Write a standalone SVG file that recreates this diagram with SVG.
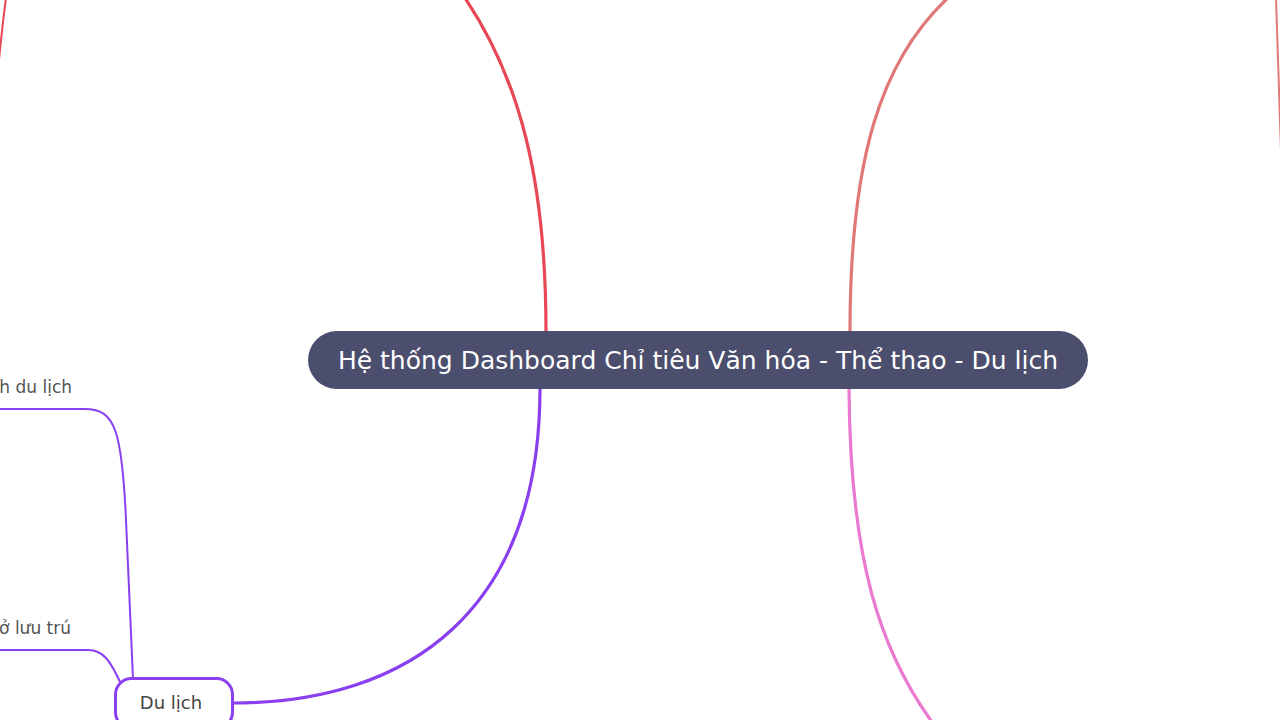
<svg xmlns="http://www.w3.org/2000/svg" width="1280" height="720" viewBox="0 0 1280 720">
<style>
.main{stroke-width:3.2;fill:none;stroke-linecap:round}
.sub{stroke-width:2;fill:none;stroke:#8a3ff0}
.lbl{font-family:"DejaVu Sans","Liberation Sans",sans-serif;fill:#555;font-size:17px}
</style>
<rect width="1280" height="720" fill="#fff"/>
<g id="connectors">
<path class="main" stroke="#e84855" d="M546,332 C546,180 520,80 465,-2"/>
<path class="main" stroke="#e07878" d="M850,332 C850,160 880,60 950,-4"/>
<path class="main" stroke="#ea79d0" d="M849,388 C850,560 880,650 932,722"/>
<path class="main" stroke="#8a3ff0" d="M540,388 C540,610 410,703 233,703"/>
<path stroke="#e84855" stroke-width="2" fill="none" d="M6,-2 C3,20 1,40 -1,60"/>
<path stroke="#e07878" stroke-width="2" fill="none" d="M1276,-2 C1278,50 1279,100 1281,150"/>
<path class="sub" d="M-2,409 L85,409 C115,409 122,430 126,520 L133,679"/>
<path class="sub" d="M-2,650 L88,650 C103,650 110,660 121,684"/>
</g>
<g id="root">
<rect x="308" y="331" width="780" height="58" rx="29" fill="#4b4e6d"/>
<text x="698" y="369" text-anchor="middle" font-family="DejaVu Sans, Liberation Sans, sans-serif" font-size="25" fill="#fff">Hệ thống Dashboard Chỉ tiêu Văn hóa - Thể thao - Du lịch</text>
</g>
<g id="du-lich">
<rect x="115.5" y="678.5" width="117" height="50" rx="16" fill="#fff" stroke="#8a3ff0" stroke-width="3"/>
<text x="171" y="709" text-anchor="middle" class="lbl" style="font-size:18px;fill:#444">Du lịch</text>
</g>
<g id="child-1">
<text x="72" y="393" text-anchor="end" class="lbl">h du lịch</text>
</g>
<g id="child-2">
<text x="71" y="634" text-anchor="end" class="lbl">ở lưu trú</text>
</g>
</svg>
